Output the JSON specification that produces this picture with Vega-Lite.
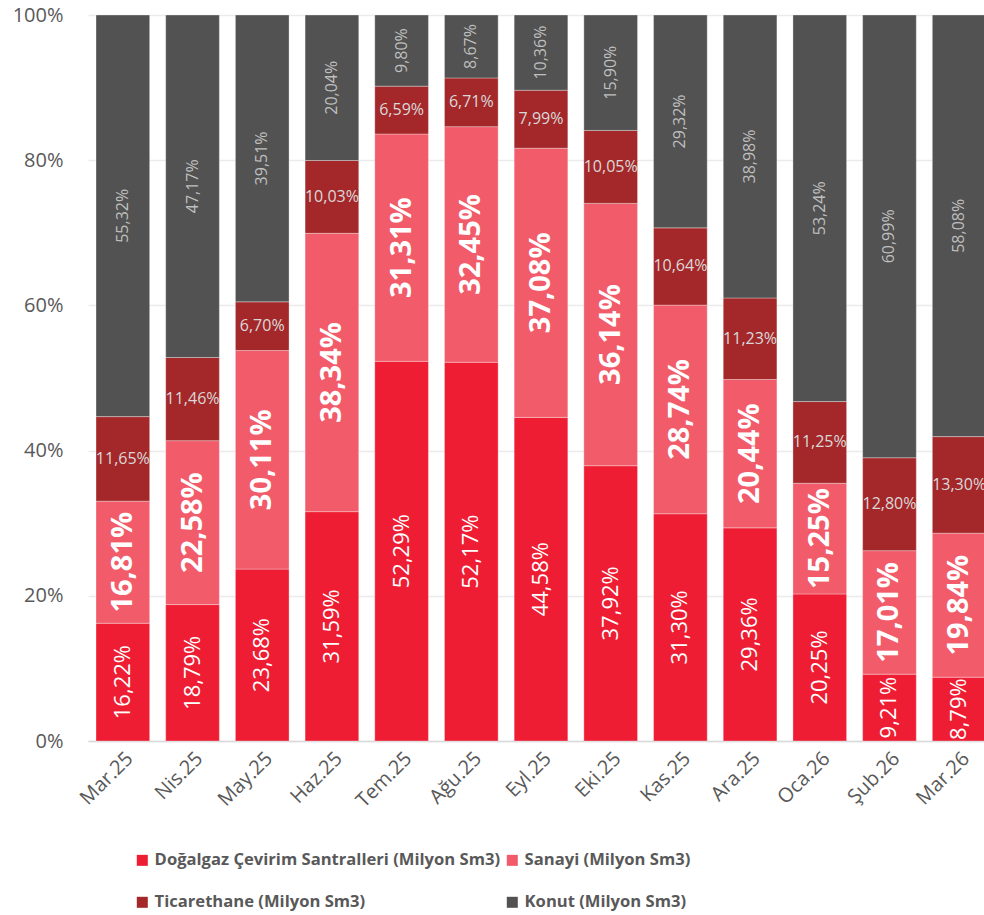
{
  "$schema": "https://vega.github.io/schema/vega-lite/v6.json",
  "width": 896,
  "height": 726,
  "autosize": {"type": "none"},
  "padding": {"left": 88, "top": 15, "right": 0, "bottom": 174},
  "background": "white",
  "config": {
    "view": {"stroke": null},
    "font": "Open Sans",
    "locale": {"number": {"decimal": ",", "thousands": ".", "grouping": [3], "currency": ["", " TL"]}}
  },
  "data": {"values": [
    {"ay": "Mar.25", "seri": "Doğalgaz Çevirim Santralleri (Milyon Sm3)", "pay": 16.22},
    {"ay": "Mar.25", "seri": "Sanayi (Milyon Sm3)", "pay": 16.81},
    {"ay": "Mar.25", "seri": "Ticarethane (Milyon Sm3)", "pay": 11.65},
    {"ay": "Mar.25", "seri": "Konut (Milyon Sm3)", "pay": 55.32},
    {"ay": "Nis.25", "seri": "Doğalgaz Çevirim Santralleri (Milyon Sm3)", "pay": 18.79},
    {"ay": "Nis.25", "seri": "Sanayi (Milyon Sm3)", "pay": 22.58},
    {"ay": "Nis.25", "seri": "Ticarethane (Milyon Sm3)", "pay": 11.46},
    {"ay": "Nis.25", "seri": "Konut (Milyon Sm3)", "pay": 47.17},
    {"ay": "May.25", "seri": "Doğalgaz Çevirim Santralleri (Milyon Sm3)", "pay": 23.68},
    {"ay": "May.25", "seri": "Sanayi (Milyon Sm3)", "pay": 30.11},
    {"ay": "May.25", "seri": "Ticarethane (Milyon Sm3)", "pay": 6.70},
    {"ay": "May.25", "seri": "Konut (Milyon Sm3)", "pay": 39.51},
    {"ay": "Haz.25", "seri": "Doğalgaz Çevirim Santralleri (Milyon Sm3)", "pay": 31.59},
    {"ay": "Haz.25", "seri": "Sanayi (Milyon Sm3)", "pay": 38.34},
    {"ay": "Haz.25", "seri": "Ticarethane (Milyon Sm3)", "pay": 10.03},
    {"ay": "Haz.25", "seri": "Konut (Milyon Sm3)", "pay": 20.04},
    {"ay": "Tem.25", "seri": "Doğalgaz Çevirim Santralleri (Milyon Sm3)", "pay": 52.29},
    {"ay": "Tem.25", "seri": "Sanayi (Milyon Sm3)", "pay": 31.31},
    {"ay": "Tem.25", "seri": "Ticarethane (Milyon Sm3)", "pay": 6.59},
    {"ay": "Tem.25", "seri": "Konut (Milyon Sm3)", "pay": 9.80},
    {"ay": "Ağu.25", "seri": "Doğalgaz Çevirim Santralleri (Milyon Sm3)", "pay": 52.17},
    {"ay": "Ağu.25", "seri": "Sanayi (Milyon Sm3)", "pay": 32.45},
    {"ay": "Ağu.25", "seri": "Ticarethane (Milyon Sm3)", "pay": 6.71},
    {"ay": "Ağu.25", "seri": "Konut (Milyon Sm3)", "pay": 8.67},
    {"ay": "Eyl.25", "seri": "Doğalgaz Çevirim Santralleri (Milyon Sm3)", "pay": 44.58},
    {"ay": "Eyl.25", "seri": "Sanayi (Milyon Sm3)", "pay": 37.08},
    {"ay": "Eyl.25", "seri": "Ticarethane (Milyon Sm3)", "pay": 7.99},
    {"ay": "Eyl.25", "seri": "Konut (Milyon Sm3)", "pay": 10.36},
    {"ay": "Eki.25", "seri": "Doğalgaz Çevirim Santralleri (Milyon Sm3)", "pay": 37.92},
    {"ay": "Eki.25", "seri": "Sanayi (Milyon Sm3)", "pay": 36.14},
    {"ay": "Eki.25", "seri": "Ticarethane (Milyon Sm3)", "pay": 10.05},
    {"ay": "Eki.25", "seri": "Konut (Milyon Sm3)", "pay": 15.90},
    {"ay": "Kas.25", "seri": "Doğalgaz Çevirim Santralleri (Milyon Sm3)", "pay": 31.30},
    {"ay": "Kas.25", "seri": "Sanayi (Milyon Sm3)", "pay": 28.74},
    {"ay": "Kas.25", "seri": "Ticarethane (Milyon Sm3)", "pay": 10.64},
    {"ay": "Kas.25", "seri": "Konut (Milyon Sm3)", "pay": 29.32},
    {"ay": "Ara.25", "seri": "Doğalgaz Çevirim Santralleri (Milyon Sm3)", "pay": 29.36},
    {"ay": "Ara.25", "seri": "Sanayi (Milyon Sm3)", "pay": 20.44},
    {"ay": "Ara.25", "seri": "Ticarethane (Milyon Sm3)", "pay": 11.23},
    {"ay": "Ara.25", "seri": "Konut (Milyon Sm3)", "pay": 38.98},
    {"ay": "Oca.26", "seri": "Doğalgaz Çevirim Santralleri (Milyon Sm3)", "pay": 20.25},
    {"ay": "Oca.26", "seri": "Sanayi (Milyon Sm3)", "pay": 15.25},
    {"ay": "Oca.26", "seri": "Ticarethane (Milyon Sm3)", "pay": 11.25},
    {"ay": "Oca.26", "seri": "Konut (Milyon Sm3)", "pay": 53.24},
    {"ay": "Şub.26", "seri": "Doğalgaz Çevirim Santralleri (Milyon Sm3)", "pay": 9.21},
    {"ay": "Şub.26", "seri": "Sanayi (Milyon Sm3)", "pay": 17.01},
    {"ay": "Şub.26", "seri": "Ticarethane (Milyon Sm3)", "pay": 12.80},
    {"ay": "Şub.26", "seri": "Konut (Milyon Sm3)", "pay": 60.99},
    {"ay": "Mar.26", "seri": "Doğalgaz Çevirim Santralleri (Milyon Sm3)", "pay": 8.79},
    {"ay": "Mar.26", "seri": "Sanayi (Milyon Sm3)", "pay": 19.84},
    {"ay": "Mar.26", "seri": "Ticarethane (Milyon Sm3)", "pay": 13.30},
    {"ay": "Mar.26", "seri": "Konut (Milyon Sm3)", "pay": 58.08}
  ]},
  "transform": [
    {"calculate": "indexof(['Doğalgaz Çevirim Santralleri (Milyon Sm3)', 'Sanayi (Milyon Sm3)', 'Ticarethane (Milyon Sm3)', 'Konut (Milyon Sm3)'], datum.seri)", "as": "sira"},
    {"stack": "pay", "groupby": ["ay"], "sort": [{"field": "sira", "order": "ascending"}], "offset": "normalize", "as": ["y0", "y1"]},
    {"calculate": "(datum.y0 + datum.y1) / 2", "as": "ymid"},
    {"calculate": "datum.pay / 100", "as": "oran"}
  ],
  "encoding": {
    "x": {
      "field": "ay", "type": "nominal",
      "sort": ["Mar.25", "Nis.25", "May.25", "Haz.25", "Tem.25", "Ağu.25", "Eyl.25", "Eki.25", "Kas.25", "Ara.25", "Oca.26", "Şub.26", "Mar.26"],
      "scale": {"range": [0, 906], "paddingInner": 0.23, "paddingOuter": 0.115},
      "axis": {"title": null, "labelAngle": -45, "labelFontSize": 20, "labelColor": "#595959", "ticks": false, "domainColor": "#D9D9D9", "domainWidth": 1.5, "labelPadding": 7}
    }
  },
  "layer": [
    {
      "mark": {"type": "bar", "stroke": "white", "strokeWidth": 0.7, "strokeOpacity": 0.45},
      "encoding": {
        "y": {"field": "y0", "type": "quantitative", "scale": {"domain": [0, 1]},
          "axis": {"title": null, "format": ".0%", "values": [0, 0.2, 0.4, 0.6, 0.8, 1], "labelFontSize": 20, "labelColor": "#595959", "domain": false, "ticks": false, "labelPadding": 25, "gridColor": "#EBEBEB", "gridWidth": 1.5}},
        "y2": {"field": "y1"},
        "color": {
          "field": "seri", "type": "nominal",
          "scale": {"domain": ["Doğalgaz Çevirim Santralleri (Milyon Sm3)", "Sanayi (Milyon Sm3)", "Ticarethane (Milyon Sm3)", "Konut (Milyon Sm3)"], "range": ["#EE1D33", "#F15B6A", "#A4282A", "#525252"]},
          "legend": {"title": null, "orient": "none", "legendX": 46, "legendY": 837, "columns": 2, "direction": "horizontal", "symbolType": "square", "symbolSize": 121, "symbolStrokeWidth": 0, "labelFontSize": 16.6, "labelFontWeight": "bold", "labelColor": "#595959", "labelOffset": 4, "columnPadding": 3, "rowPadding": 25, "padding": 0, "labelLimit": 500}
        }
      }
    },
    {
      "transform": [{"filter": "datum.sira == 0"}],
      "mark": {"type": "text", "angle": 270, "fontSize": 22, "color": "white", "baseline": "middle", "align": "center"},
      "encoding": {"y": {"field": "ymid", "type": "quantitative"}, "text": {"field": "oran", "type": "quantitative", "format": ".2%"}}
    },
    {
      "transform": [{"filter": "datum.sira == 1"}],
      "mark": {"type": "text", "angle": 270, "fontSize": 29, "fontWeight": "bold", "color": "white", "baseline": "middle", "align": "center"},
      "encoding": {"y": {"field": "ymid", "type": "quantitative"}, "text": {"field": "oran", "type": "quantitative", "format": ".2%"}}
    },
    {
      "transform": [{"filter": "datum.sira == 2"}],
      "mark": {"type": "text", "angle": 0, "fontSize": 16, "color": "#D9D9D9", "baseline": "middle", "align": "center"},
      "encoding": {"y": {"field": "ymid", "type": "quantitative"}, "text": {"field": "oran", "type": "quantitative", "format": ".2%"}}
    },
    {
      "transform": [{"filter": "datum.sira == 3"}],
      "mark": {"type": "text", "angle": 270, "fontSize": 16, "color": "#BFBFBF", "baseline": "middle", "align": "center"},
      "encoding": {"y": {"field": "ymid", "type": "quantitative"}, "text": {"field": "oran", "type": "quantitative", "format": ".2%"}}
    }
  ]
}
